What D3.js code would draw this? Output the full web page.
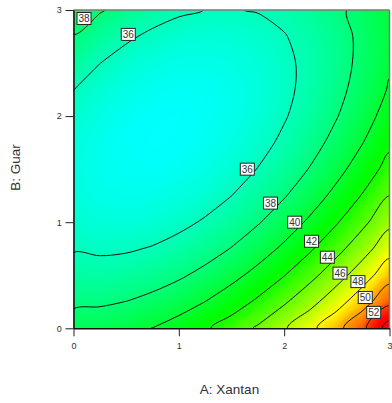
<!DOCTYPE html>
<html>
<head>
<meta charset="utf-8">
<script src="https://cdn.jsdelivr.net/npm/d3@7"></script>
<style>
  body { margin: 0; background: #fff; }
  svg { display: block; font-family: "Liberation Sans", Arial, sans-serif; }
  .axis text { fill: #333; font-size: 9px; }
  .axis line { stroke: #222; }
  .axis path { stroke: #111; stroke-width: 1.5; }
  .axis-title { fill: #333; font-size: 13.5px; }
  .contour-label text { fill: #333; font-size: 10px; }
</style>
</head>
<body>
<svg id="chart"></svg>
<script>
// Response, on a 0.25 grid
// columns: A (Xantan), rows: B (Guar) from top (3) to bottom (0)
const xantanLevels = [0, 0.25, 0.5, 0.75, 1, 1.25, 1.5, 1.75, 2, 2.25, 2.5, 2.75, 3];
const guarLevels = [3, 2.75, 2.5, 2.25, 2, 1.75, 1.5, 1.25, 1, 0.75, 0.5, 0.25, 0];
const responseGrid = [
    [39.18, 38.15, 37.32, 36.68, 36.23, 35.98, 35.93, 36.07, 36.40, 36.93, 37.66, 38.58, 39.69],
    [37.90, 36.97, 36.24, 35.70, 35.35, 35.20, 35.25, 35.49, 35.92, 36.56, 37.38, 38.40, 39.62],
    [36.85, 36.02, 35.39, 34.95, 34.70, 34.65, 34.80, 35.14, 35.68, 36.41, 37.34, 38.46, 39.77],
    [36.02, 35.30, 34.76, 34.43, 34.28, 34.33, 34.58, 35.02, 35.66, 36.49, 37.52, 38.74, 40.16],
    [35.43, 34.80, 34.37, 34.13, 34.09, 34.24, 34.59, 35.13, 35.87, 36.80, 37.93, 39.25, 40.77],
    [35.06, 34.54, 34.21, 34.07, 34.13, 34.38, 34.83, 35.47, 36.31, 37.34, 38.57, 39.99, 41.61],
    [34.93, 34.50, 34.27, 34.23, 34.39, 34.75, 35.30, 36.04, 36.98, 38.11, 39.44, 40.96, 42.68],
    [35.02, 34.69, 34.56, 34.63, 34.89, 35.34, 35.99, 36.84, 37.87, 39.11, 40.54, 42.16, 43.98],
    [35.34, 35.12, 35.09, 35.25, 35.61, 36.17, 36.92, 37.86, 39.00, 40.34, 41.87, 43.59, 45.51],
    [35.89, 35.77, 35.84, 36.10, 36.56, 37.22, 38.07, 39.11, 40.35, 41.79, 43.42, 45.25, 47.27],
    [36.67, 36.64, 36.82, 37.18, 37.74, 38.50, 39.45, 40.60, 41.94, 43.47, 45.21, 47.13, 49.25],
    [37.67, 37.75, 38.02, 38.49, 39.15, 40.01, 41.06, 42.31, 43.75, 45.39, 47.22, 49.25, 51.47],
    [38.91, 39.09, 39.46, 40.03, 40.79, 41.75, 42.90, 44.25, 45.79, 47.53, 49.46, 51.59, 55.00]
];

const contourLevels = [36, 38, 40, 42, 44, 46, 48, 50, 52, 54];
const xTicks = [0, 1, 2, 3];
const yTicks = [0, 1, 2, 3];

// contour labels (value, A, B)
const labelValues = [38, 36, 36, 38, 40, 42, 44, 46, 48, 50, 52];
const labelXantan = [0.10, 0.52, 1.65, 1.87, 2.10, 2.26, 2.41, 2.53, 2.70, 2.77, 2.85];
const labelGuar = [2.92, 2.77, 1.50, 1.18, 1.00, 0.82, 0.67, 0.52, 0.44, 0.29, 0.15];

const colorStops = [27, 34, 41.5, 48, 53.5];
const colorRange = ['#0000ff', '#00ffff', '#00ff00', '#ffff00', '#ff0000'];

class ContourPlot {
    constructor(_config) {
        this.config = {
            parentElement: _config.parentElement,
            containerWidth: _config.containerWidth || 392,
            containerHeight: _config.containerHeight || 403,
            margin: _config.margin || {top: 10, right: 2.5, bottom: 74.7, left: 73.5}
        };
        this.initVis();
    }

    initVis() {
        let vis = this;

        vis.width = vis.config.containerWidth - vis.config.margin.left - vis.config.margin.right;
        vis.height = vis.config.containerHeight - vis.config.margin.top - vis.config.margin.bottom;

        vis.xScale = d3.scaleLinear().domain([0, 3]).range([0, vis.width]);
        vis.yScale = d3.scaleLinear().domain([0, 3]).range([vis.height, 0]);
        vis.colorScale = d3.scaleLinear().domain(colorStops).range(colorRange).clamp(true);

        vis.svg = d3.select(vis.config.parentElement)
            .attr('width', vis.config.containerWidth)
            .attr('height', vis.config.containerHeight);

        vis.svg.append('defs').append('clipPath').attr('id', 'plot-clip')
            .append('rect').attr('width', vis.width).attr('height', vis.height);

        vis.chart = vis.svg.append('g')
            .attr('transform', `translate(${vis.config.margin.left},${vis.config.margin.top})`);

        // grid coordinates from d3.contours -> pixels (value i sits at i + 0.5)
        const nx = xantanLevels.length, ny = guarLevels.length;
        vis.gridX = d3.scaleLinear().domain([0.5, nx - 0.5])
            .range([vis.xScale(xantanLevels[0]), vis.xScale(xantanLevels[nx - 1])]);
        vis.gridY = d3.scaleLinear().domain([0.5, ny - 0.5])
            .range([vis.yScale(guarLevels[0]), vis.yScale(guarLevels[ny - 1])]);
        vis.contours = d3.contours().size([nx, ny]);

        // smooth the marching-squares rings so the lines look like the original
        const ringLine = d3.line().curve(d3.curveCatmullRomClosed.alpha(0.5));
        vis.smoothPath = geo => geo.coordinates.map(poly =>
            poly.map(ring => ringLine(ring.slice(0, -1).map(p => [vis.gridX(p[0]), vis.gridY(p[1])]))).join('')
        ).join('');

        vis.xAxis = d3.axisBottom(vis.xScale).tickValues(xTicks).tickFormat(d3.format('d'))
            .tickSize(8).tickSizeOuter(0).tickPadding(6.3);
        vis.yAxis = d3.axisLeft(vis.yScale).tickValues(yTicks).tickFormat(d3.format('d'))
            .tickSize(8).tickSizeOuter(0).tickPadding(3.8);
    }

    renderVis() {
        let vis = this;
        const values = responseGrid.flat();

        const plot = vis.chart.append('g').attr('clip-path', 'url(#plot-clip)');

        // base colour and filled bands
        const bandStep = 0.1;
        const bands = d3.range(34, 55.2, bandStep);
        plot.append('rect')
            .attr('width', vis.width).attr('height', vis.height)
            .attr('fill', vis.colorScale(d3.min(values)));
        plot.append('g').selectAll('path')
            .data(vis.contours.thresholds(bands)(values))
            .join('path')
            .attr('d', vis.smoothPath)
            .attr('fill', d => vis.colorScale(d.value + bandStep / 2))
            .attr('stroke', d => vis.colorScale(d.value + bandStep / 2))
            .attr('stroke-width', 0.5);

        // contour lines
        plot.append('g').selectAll('path')
            .data(vis.contours.thresholds(contourLevels)(values))
            .join('path')
            .attr('d', vis.smoothPath)
            .attr('fill', 'none')
            .attr('stroke', '#111')
            .attr('stroke-width', 1);

        // frame: top and right in grey
        vis.chart.append('line').attr('x1', 0).attr('x2', vis.width).attr('y1', 0).attr('y2', 0)
            .attr('stroke', '#7a7a7a').attr('stroke-width', 1.5);
        vis.chart.append('line').attr('x1', vis.width).attr('x2', vis.width).attr('y1', 0).attr('y2', vis.height)
            .attr('stroke', '#7a7a7a').attr('stroke-width', 1.5);

        vis.chart.append('g').attr('class', 'axis x-axis')
            .attr('transform', `translate(0,${vis.height})`)
            .call(vis.xAxis);
        vis.chart.append('g').attr('class', 'axis y-axis')
            .call(vis.yAxis);

        // contour labels
        const labels = vis.chart.append('g').selectAll('g')
            .data(labelValues.map((v, i) => ({value: v, a: labelXantan[i], b: labelGuar[i]})))
            .join('g')
            .attr('class', 'contour-label')
            .attr('transform', d => `translate(${vis.xScale(d.a)},${vis.yScale(d.b)})`);
        labels.append('rect')
            .attr('x', -7).attr('y', -6).attr('width', 14).attr('height', 12)
            .attr('fill', '#fff').attr('stroke', '#222').attr('stroke-width', 1);
        labels.append('text')
            .attr('text-anchor', 'middle').attr('dy', '0.36em')
            .text(d => d.value);

        // axis titles
        vis.svg.append('text').attr('class', 'axis-title')
            .attr('x', vis.config.margin.left + vis.width / 2 - 2)
            .attr('y', 393.5)
            .attr('text-anchor', 'middle')
            .text('A: Xantan');
        vis.svg.append('text').attr('class', 'axis-title')
            .attr('transform', `translate(20,167.5) rotate(-90)`)
            .attr('text-anchor', 'middle')
            .text('B: Guar');
    }
}

const plotVis = new ContourPlot({parentElement: '#chart'});
plotVis.renderVis();
</script>
</body>
</html>
